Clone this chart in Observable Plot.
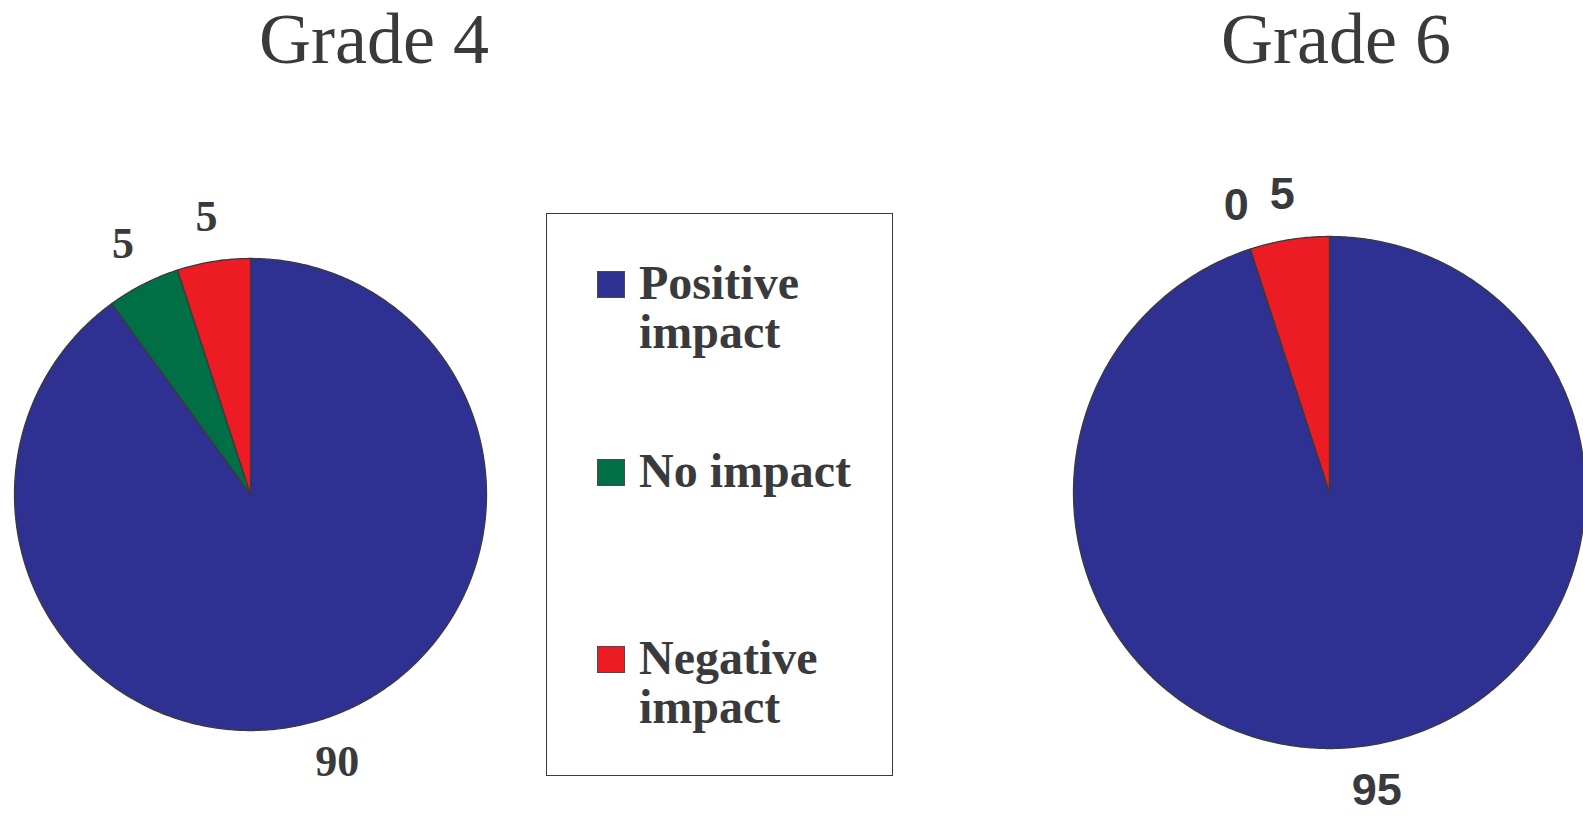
<!DOCTYPE html>
<html>
<head>
<meta charset="utf-8">
<script src="https://cdn.jsdelivr.net/npm/d3@7"></script>
<script src="https://cdn.jsdelivr.net/npm/@observablehq/plot@0.6"></script>
<style>
  html, body { margin: 0; padding: 0; background: #fff; overflow: hidden; }
  #stage { position: relative; width: 1583px; height: 815px; overflow: hidden; background: #fff; }
  .title { position: absolute; top: 0px; font-family: "Liberation Serif", "Times New Roman", serif;
           font-size: 72px; line-height: 1.107; color: #3a3a3c; white-space: nowrap; transform: translateX(-50%); }
  .pie { position: absolute; }
  #legend { position: absolute; left: 546px; top: 213px; width: 347px; height: 563px;
            border: 1.2px solid #3a3a3c; box-sizing: border-box; background: #fff; }
  .item { position: absolute; left: 0; width: 100%; }
  .swatch { position: absolute; left: 50px; top: 13px; width: 28px; height: 27px; box-sizing: border-box;
            border: 1px solid #4a4a4c; }
  .label { position: absolute; left: 92px; width: 222px; font-family: "Liberation Serif", "Times New Roman", serif;
           font-weight: bold; font-size: 48px; line-height: 49px; color: #3a3a3c; }
</style>
</head>
<body>
<div id="stage"></div>
<script>
// ---- data ----
const categories = ["Positive impact", "No impact", "Negative impact"];
const colors = ["#2E3192", "#006F45", "#ED1C24"];
const chartTitles = ["Grade 4", "Grade 6"];
const grade4Values = [90, 5, 5];
const grade6Values = [95, 0, 5];

// ---- layout (pixels) ----
const pies = [
  { title: chartTitles[0], values: grade4Values, cx: 250, cy: 494, r: 236, titleX: 374,
    labelFont: "'Liberation Serif', 'Times New Roman', serif", labelSize: 44, labelR: 1.19 },
  { title: chartTitles[1], values: grade6Values, cx: 1329, cy: 492, r: 256, titleX: 1336,
    labelFont: "'Liberation Sans', Arial, sans-serif", labelSize: 45, labelR: 1.18 }
];

const stage = document.getElementById("stage");
const ink = "#3a3a3c";

for (const p of pies) {
  const arcs = d3.pie().sort(null).startAngle(0).endAngle(2 * Math.PI)(p.values);
  const rows = [];
  arcs.forEach((a, i) => {
    const cat = categories[i];
    rows.push({ cat, x: 0, y: 0 });
    const span = a.endAngle - a.startAngle;
    const n = Math.max(1, Math.ceil(span / (Math.PI / 360)));
    for (let k = 0; k <= n; k++) {
      const t = a.startAngle + span * k / n;
      rows.push({ cat, x: Math.sin(t), y: Math.cos(t) });
    }
    rows.push({ cat, x: 0, y: 0 });
  });
  const labels = arcs.map((a, i) => {
    const m = (a.startAngle + a.endAngle) / 2;
    return { text: String(p.values[i]), x: p.labelR * Math.sin(m), y: p.labelR * Math.cos(m) };
  });

  const S = Math.round(p.r * 1.45);
  const k = S / p.r;
  const chart = Plot.plot({
    width: 2 * S,
    height: 2 * S,
    margin: 0,
    x: { domain: [-k, k], axis: null },
    y: { domain: [-k, k], axis: null },
    color: { domain: categories, range: colors },
    style: { maxWidth: "none", overflow: "visible", background: "transparent" },
    marks: [
      Plot.line(rows, { x: "x", y: "y", z: "cat", fill: "cat", stroke: ink, strokeWidth: 1.3, strokeLinejoin: "round" }),
      Plot.text(labels, { x: "x", y: "y", text: "text", fill: ink, fontFamily: p.labelFont,
        fontWeight: "bold", fontSize: p.labelSize, textAnchor: "middle", lineAnchor: "middle" })
    ]
  });
  const wrap = document.createElement("div");
  wrap.className = "pie";
  wrap.style.left = (p.cx - S) + "px";
  wrap.style.top = (p.cy - S) + "px";
  wrap.appendChild(chart);
  stage.appendChild(wrap);

  const t = document.createElement("div");
  t.className = "title";
  t.style.left = p.titleX + "px";
  t.textContent = p.title;
  stage.appendChild(t);
}

// ---- legend ----
const legend = document.createElement("div");
legend.id = "legend";
categories.forEach((c, i) => {
  const item = document.createElement("div");
  item.className = "item";
  item.style.top = (44 + i * 187.5) + "px";
  const sw = document.createElement("div");
  sw.className = "swatch";
  sw.style.background = colors[i];
  const lb = document.createElement("div");
  lb.className = "label";
  lb.textContent = c;
  item.appendChild(sw);
  item.appendChild(lb);
  legend.appendChild(item);
});
stage.appendChild(legend);
</script>
</body>
</html>
